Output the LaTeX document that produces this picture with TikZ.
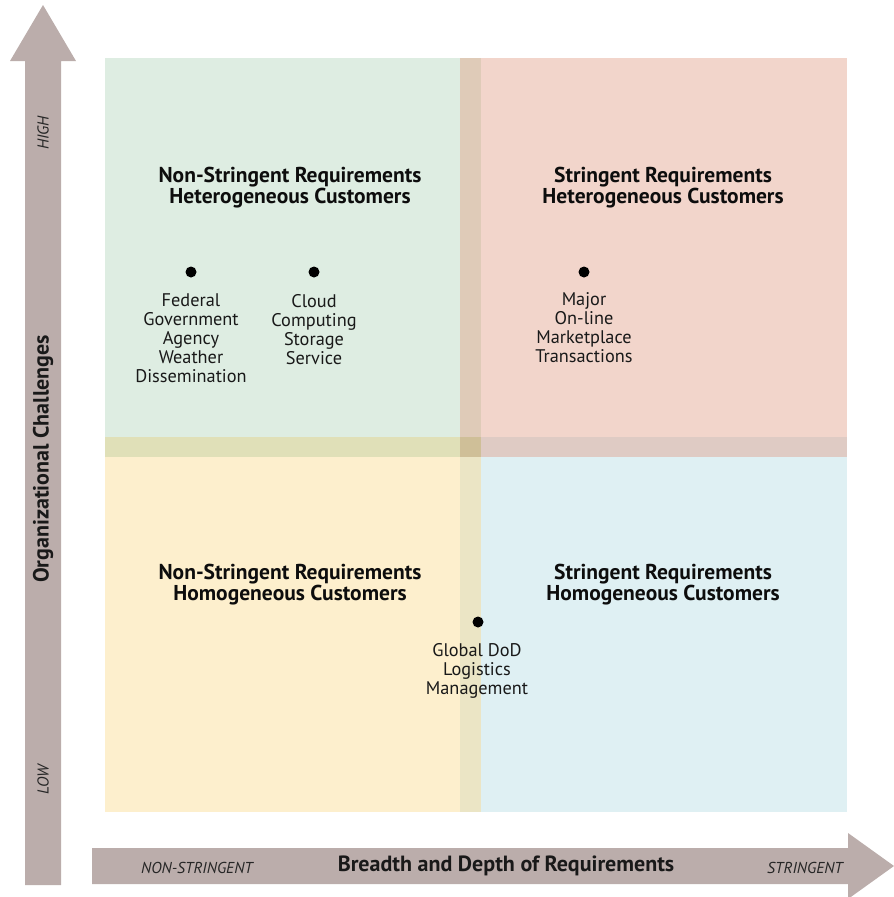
\documentclass[tikz,border=0pt]{standalone}
\usepackage{fontspec}
\setmainfont{PT Sans}
\begin{document}
\begin{tikzpicture}[x=1pt,y=-1pt,
  every node/.style={inner sep=0pt, outer sep=0pt},
  title/.style={font=\fontsize{21.5}{21}\selectfont\bfseries, align=center, text=black!95},
  lbl/.style={font=\fontsize{18.3}{19}\selectfont, align=center, anchor=north, text=black!90},
  axis/.style={font=\fontsize{15.8}{16}\selectfont\itshape, text=black!85},
  dot/.style={circle, fill=black, minimum size=11pt}]
\definecolor{arrowc}{HTML}{BBADAB}
\definecolor{qgreen}{HTML}{DEEDE2}
\definecolor{qpink}{HTML}{F2D5CB}
\definecolor{qyellow}{HTML}{FDEFCD}
\definecolor{qblue}{HTML}{DFF0F3}
\definecolor{bvup}{HTML}{DFCBB8}
\definecolor{bvlo}{HTML}{EBE5C5}
\definecolor{bhl}{HTML}{E0E0B8}
\definecolor{bhr}{HTML}{DFCBC4}
\definecolor{bx}{HTML}{CFBF98}
\useasboundingbox (0,0) rectangle (894,897);
% quadrants
\fill[qgreen] (105,58) rectangle (460,437);
\fill[qpink] (481,58) rectangle (847,437);
\fill[qyellow] (105,457) rectangle (460,812);
\fill[qblue] (481,457) rectangle (847,812);
% bands
\fill[bvup] (460,58) rectangle (481,437);
\fill[bvlo] (460,457) rectangle (481,812);
\fill[bhl] (105,437) rectangle (460,457);
\fill[bhr] (481,437) rectangle (847,457);
\fill[bx] (460,437) rectangle (481,457);
% arrows
\fill[arrowc] (25,885) -- (25,61) -- (10,61) -- (43,5) -- (76,61) -- (61,61) -- (61,885) -- cycle;
\fill[arrowc] (92,848) -- (848,848) -- (848,833) -- (894,866) -- (848,899) -- (848,884) -- (92,884) -- cycle;
% axis labels
\node[rotate=90, font=\fontsize{22}{22}\selectfont\bfseries, text=black!90] (ylab) at (43,459) {Organizational Challenges};
\node[rotate=90, axis] (high) at (43,133) {HIGH};
\node[rotate=90, axis] (low) at (43,780) {LOW};
\node[font=\fontsize{22}{22}\selectfont\bfseries, text=black!90] (xlab) at (506,866) {Breadth and Depth of Requirements};
\node[axis] (nonstr) at (197,868) {NON-STRINGENT};
\node[axis] (str) at (805,868) {STRINGENT};
% quadrant titles
\node[title] (t1) at (290,188) {Non-Stringent Requirements\\Heterogeneous Customers};
\node[title] (t2) at (663,188) {Stringent Requirements\\Heterogeneous Customers};
\node[title] (t3) at (290,585) {Non-Stringent Requirements\\Homogeneous Customers};
\node[title] (t4) at (663,585) {Stringent Requirements\\Homogeneous Customers};
% dots
\node[dot] (d1) at (191,272) {};
\node[dot] (d2) at (314,272) {};
\node[dot] (d3) at (584,272) {};
\node[dot] (d4) at (478,622) {};
\node[lbl] (l1) at (191,294) {Federal\\Government\\Agency\\Weather\\Dissemination};
\node[lbl] (l2) at (314,294) {Cloud\\Computing\\Storage\\Service};
\node[lbl] (l3) at (584,293) {Major\\On-line\\Marketplace\\Transactions};
\node[lbl] (l4) at (477,643) {Global DoD\\Logistics\\Management};
\end{tikzpicture}
\end{document}
